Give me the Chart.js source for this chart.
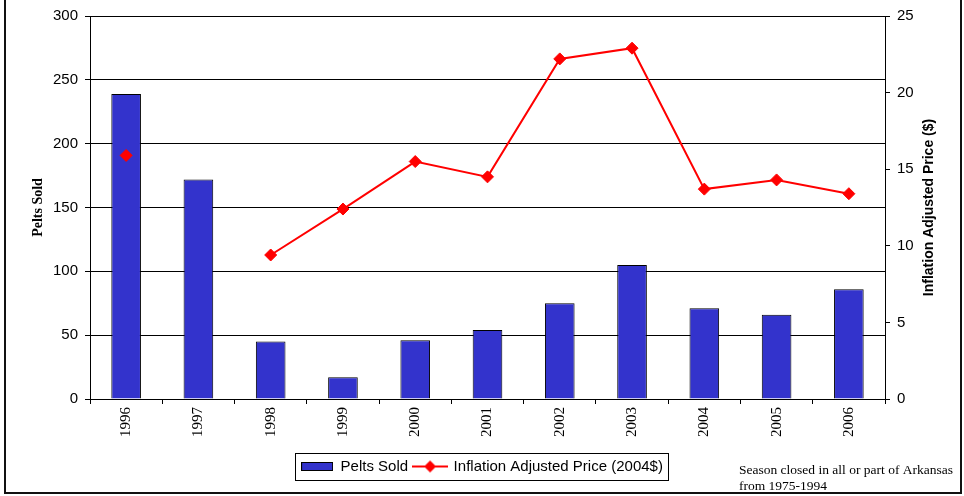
<!DOCTYPE html>
<html>
<head>
<meta charset="utf-8">
<title>Pelts Sold and Inflation Adjusted Price</title>
<script src="https://cdn.jsdelivr.net/npm/chart.js@4"></script>
<style>
    html, body { margin: 0; padding: 0; background: #fff; }
    #wrap { width: 964px; height: 496px; }
</style>
</head>
<body>
<div id="wrap"><canvas id="grafico" width="964" height="496"></canvas></div>
<script>
const years = ['1996', '1997', '1998', '1999', '2000', '2001', '2002', '2003', '2004', '2005', '2006'];
const peltsSold = [239, 172, 45, 17, 46, 54, 75, 105, 71, 66, 86];
const adjustedPrice = [15.9, null, 9.4, 12.4, 15.5, 14.5, 22.2, 22.9, 13.7, 14.3, 13.4];
const peltTicks = { min: 0, max: 300, step: 50 };
const priceTicks = { min: 0, max: 25, step: 5 };

const BAR_COLOR = '#3333CC';
const LINE_COLOR = '#FF0000';

// little images for the legend swatches
function barSwatch() {
    const c = document.createElement('canvas');
    c.width = 32; c.height = 9;
    const g = c.getContext('2d');
    g.fillStyle = BAR_COLOR;
    g.fillRect(0, 0, 32, 9);
    g.strokeStyle = '#000';
    g.lineWidth = 1;
    g.strokeRect(0.5, 0.5, 31, 8);
    return c;
}

function lineSwatch() {
    const c = document.createElement('canvas');
    c.width = 36; c.height = 14;
    const g = c.getContext('2d');
    g.strokeStyle = LINE_COLOR;
    g.lineWidth = 2;
    g.beginPath();
    g.moveTo(0, 7); g.lineTo(36, 7);
    g.stroke();
    g.fillStyle = LINE_COLOR;
    g.beginPath();
    g.moveTo(18, 1); g.lineTo(24, 7); g.lineTo(18, 13); g.lineTo(12, 7);
    g.closePath();
    g.fill();
    return c;
}

const extras = {
    id: 'extras',
    afterDraw(chart) {
        const ctx = chart.ctx;
        const area = chart.chartArea;
        const midY = (area.top + area.bottom) / 2;
        ctx.save();

        // axis titles
        ctx.fillStyle = '#000';
        ctx.textAlign = 'center';
        ctx.textBaseline = 'middle';
        ctx.font = 'bold 14px "Liberation Serif"';
        ctx.save();
        ctx.translate(38, midY);
        ctx.rotate(-Math.PI / 2);
        ctx.fillText('Pelts Sold', 0, 0);
        ctx.restore();

        ctx.font = 'bold 14px "Liberation Sans"';
        ctx.save();
        ctx.translate(929, midY);
        ctx.rotate(-Math.PI / 2);
        ctx.fillText('Inflation Adjusted Price ($)', 0, 0);
        ctx.restore();

        // note at bottom right
        ctx.textAlign = 'left';
        ctx.font = '13.5px "Liberation Serif"';
        ctx.fillText('Season closed in all or part of Arkansas', 739, 470);
        ctx.fillText('from 1975-1994', 739, 486);

        // box round the legend
        const boxes = chart.legend.legendHitBoxes;
        if (boxes && boxes.length) {
            const first = boxes[0];
            const last = boxes[boxes.length - 1];
            const x0 = Math.round(first.left - 6) + 0.5;
            const x1 = Math.round(last.left + last.width + 5) + 0.5;
            const y0 = Math.round(first.top - 6) + 0.5;
            const y1 = Math.round(first.top + first.height + 6) + 0.5;
            ctx.strokeStyle = '#000';
            ctx.lineWidth = 1;
            ctx.strokeRect(x0, y0, x1 - x0, y1 - y0);
        }

        // outer frame
        ctx.strokeStyle = '#111';
        ctx.lineWidth = 2;
        ctx.strokeRect(5, -5, 956, 498);
        ctx.restore();
    }
};

const ctx = document.getElementById('grafico').getContext('2d');

new Chart(ctx, {
    type: 'bar',
    data: {
        labels: years,
        datasets: [
            {
                type: 'line',
                label: 'Inflation Adjusted Price (2004$)',
                data: adjustedPrice,
                yAxisID: 'yPrice',
                borderColor: LINE_COLOR,
                backgroundColor: LINE_COLOR,
                borderWidth: 2,
                pointStyle: 'rectRot',
                pointRadius: 6,
                pointBorderWidth: 1,
                pointBackgroundColor: LINE_COLOR,
                pointBorderColor: LINE_COLOR,
                spanGaps: false,
                tension: 0
            },
            {
                type: 'bar',
                label: 'Pelts Sold',
                data: peltsSold,
                yAxisID: 'yPelts',
                backgroundColor: BAR_COLOR,
                borderColor: '#000',
                borderWidth: 1,
                barPercentage: 0.41,
                categoryPercentage: 1
            }
        ]
    },
    options: {
        responsive: false,
        animation: false,
        layout: { padding: { top: 15, bottom: 12, left: 0, right: 0 } },
        plugins: {
            tooltip: { enabled: false },
            legend: {
                position: 'bottom',
                labels: {
                    usePointStyle: true,
                    pointStyleWidth: 32,
                    padding: 6,
                    color: '#000',
                    font: { family: 'Liberation Sans', size: 15 },
                    generateLabels: () => [
                        { text: 'Pelts Sold', pointStyle: barSwatch(), fillStyle: BAR_COLOR, strokeStyle: '#000', lineWidth: 0, datasetIndex: 1 },
                        { text: 'Inflation Adjusted Price (2004$)', pointStyle: lineSwatch(), fillStyle: LINE_COLOR, strokeStyle: LINE_COLOR, lineWidth: 0, datasetIndex: 0 }
                    ]
                }
            }
        },
        scales: {
            x: {
                offset: true,
                grid: { display: true, drawOnChartArea: false, drawTicks: true, tickLength: 5, color: '#000', offset: true },
                border: { color: '#000', width: 1 },
                ticks: {
                    minRotation: 90,
                    maxRotation: 90,
                    padding: 3,
                    color: '#000',
                    font: { family: 'Liberation Serif', size: 15 }
                },
                afterFit: s => { s.height = 54; }
            },
            yPelts: {
                position: 'left',
                min: peltTicks.min,
                max: peltTicks.max,
                ticks: {
                    stepSize: peltTicks.step,
                    padding: 7,
                    color: '#000',
                    font: { family: 'Liberation Sans', size: 15 }
                },
                grid: { color: '#000', tickLength: 5 },
                border: { color: '#000', width: 1 },
                afterFit: s => { s.width = 90; }
            },
            yPrice: {
                position: 'right',
                min: priceTicks.min,
                max: priceTicks.max,
                ticks: {
                    stepSize: priceTicks.step,
                    padding: 7,
                    color: '#000',
                    font: { family: 'Liberation Sans', size: 15 }
                },
                grid: { drawOnChartArea: false, color: '#000', tickLength: 5 },
                border: { color: '#000', width: 1 },
                afterFit: s => { s.width = 79; }
            }
        }
    },
    plugins: [extras]
});
</script>
</body>
</html>
